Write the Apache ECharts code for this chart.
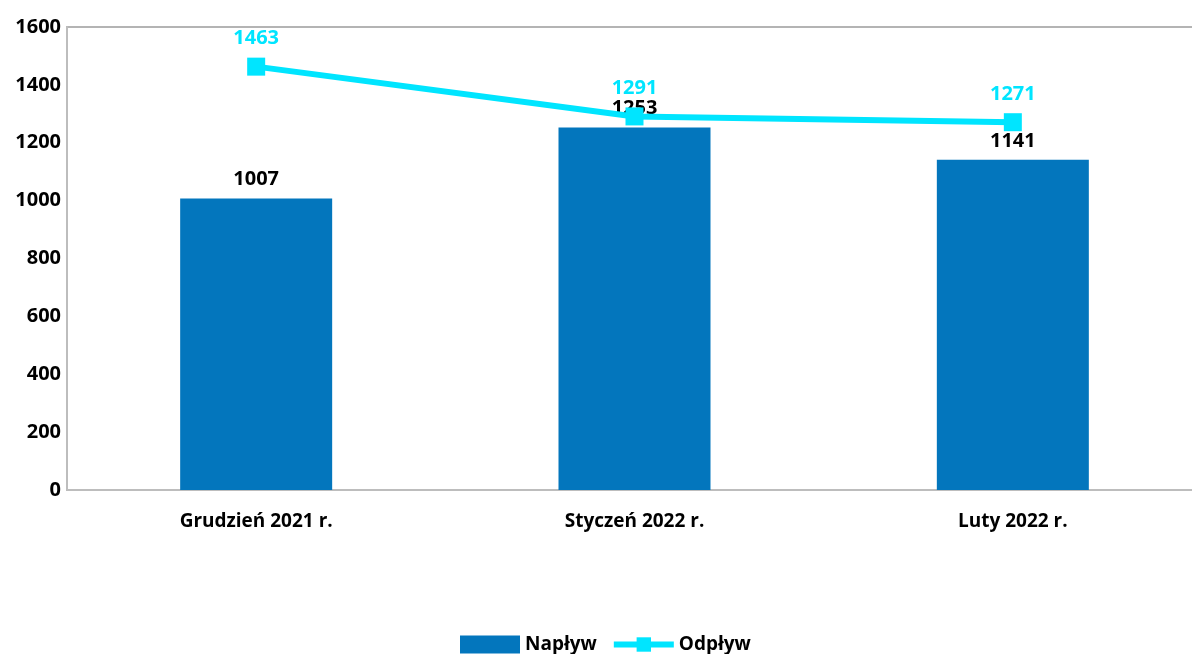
<!DOCTYPE html>
<html>
<head>
<meta charset="utf-8">
<script src="https://cdn.jsdelivr.net/npm/echarts@6/dist/echarts.min.js"></script>
<style>html,body{margin:0;padding:0;background:#fff;overflow:hidden}#c{width:1212px;height:654px}</style>
</head>
<body>
<div id="c"></div>
<script>
const categories = ['Grudzień 2021 r.', 'Styczeń 2022 r.', 'Luty 2022 r.'];
const naplyw = [1007, 1253, 1141];
const odplyw = [1463, 1291, 1271];
const yTicks = [0, 200, 400, 600, 800, 1000, 1200, 1400, 1600];

const FONT = '"Open Sans", sans-serif';
const chart = echarts.init(document.getElementById('c'), null, {renderer: 'canvas'});
chart.setOption({
  animation: false,
  backgroundColor: '#fff',
  textStyle: {fontFamily: FONT},
  grid: {left: 67, top: 27, width: 1135, height: 463, show: true, borderColor: '#B4B4B4', borderWidth: 2, backgroundColor: 'transparent'},
  legend: {
    top: 630, left: 455, itemGap: 14, itemWidth: 60, itemHeight: 18,
    textStyle: {fontFamily: FONT, fontWeight: 'bold', fontSize: 19, color: '#000'},
    data: [
      {name: 'Napływ', icon: 'rect'},
      {name: 'Odpływ', lineStyle: {width: 6, color: '#00E5FF'}}
    ]
  },
  xAxis: {
    type: 'category', data: categories,
    axisLine: {lineStyle: {color: '#BDBDBD', width: 2}},
    axisTick: {show: false},
    axisLabel: {fontFamily: FONT, fontWeight: 'bold', fontSize: 19, color: '#000', margin: 22}
  },
  yAxis: {
    type: 'value', min: yTicks[0], max: yTicks[yTicks.length - 1], interval: 200,
    axisLine: {show: true, lineStyle: {color: '#BDBDBD', width: 2}},
    axisTick: {show: false},
    splitLine: {show: false},
    axisLabel: {fontFamily: FONT, fontWeight: 'bold', fontSize: 20, color: '#000', margin: 6, formatter: v => String(v)}
  },
  series: [
    {
      name: 'Napływ', type: 'bar', data: naplyw, barWidth: 152,
      itemStyle: {color: '#0376BD'},
      label: {show: true, position: 'top', distance: 9, fontFamily: FONT, fontWeight: 'bold', fontSize: 20, color: '#000'}
    },
    {
      name: 'Odpływ', type: 'line', data: odplyw,
      symbol: 'rect', symbolSize: 18,
      lineStyle: {color: '#00E5FF', width: 6},
      itemStyle: {color: '#00E5FF'},
      label: {show: true, position: 'top', distance: 9, fontFamily: FONT, fontWeight: 'bold', fontSize: 20, color: '#00E5FF'}
    }
  ]
});
</script>
</body>
</html>
